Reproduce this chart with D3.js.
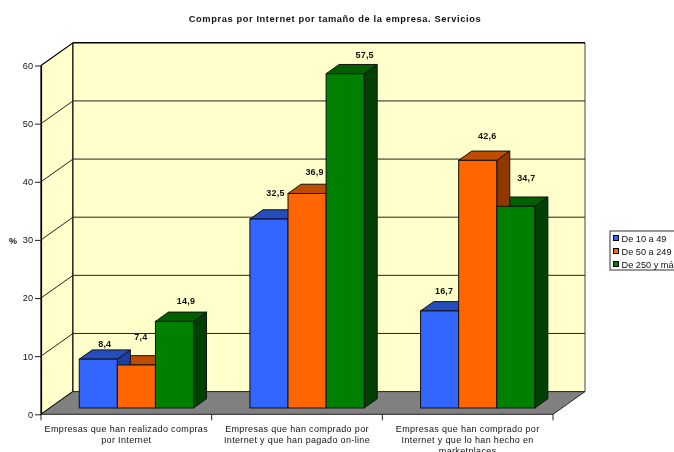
<!DOCTYPE html>
<html><head><meta charset="utf-8">
<script src="https://cdn.jsdelivr.net/npm/d3@7/dist/d3.min.js"></script>
<style>html,body{margin:0;padding:0;background:#fff;overflow:hidden}svg{display:block;filter:blur(0.35px)}text{font-family:"Liberation Sans",Arial,sans-serif;fill:#111}</style>
</head><body><svg id="c" width="674" height="452"></svg>
<script>
const title = "Compras por Internet por tamaño de la empresa. Servicios";
const categories = ["Empresas que han realizado compras por Internet","Empresas que han comprado por Internet y que han pagado on-line","Empresas que han comprado por Internet y que lo han hecho en marketplaces"];
const categoryLines = [["Empresas que han realizado compras","por Internet"],["Empresas que han comprado por","Internet y que han pagado on-line"],["Empresas que han comprado por","Internet y que lo han hecho en","marketplaces"]];
const seriesNames = ["De 10 a 49","De 50 a 249","De 250 y más"];
const small = [8.4,32.5,16.7];
const medium = [7.4,36.9,42.6];
const large = [14.9,57.5,34.7];
const yTicks = [0,10,20,30,40,50,60];
const colors = ["#3366FF","#FF6600","#008000"];
const topColors = ["#264DBF","#BF4D00","#006000"];
const sideColors = ["#1F3F9F","#8F3900","#004000"];
// hand placed label nudges in the original chart, [dx, dy] per series per category
const labelNudge = [[[0,1],[-2,-12],[5,-4]],[[0,-10],[1,-5],[13,-2]],[[-2,-4],[3,-8],[4,-12]]];

const values = [small,medium,large];
const svg = d3.select("#c");
const fmt = v => String(v).replace(".",",");
const L=41,R=553,T=65.5,B=414.3, DX=32,DY=-22.7;
const y = d3.scaleLinear().domain([0,60]).range([B,T]);
const x0 = d3.scaleBand().domain(d3.range(3)).range([L,R]);
const x1 = d3.scaleBand().domain(d3.range(3)).range([0,114.3]);
const zFront=0.27, zBack=0.67;
const poly = (pts,fill,stroke,sw)=>svg.append("polygon").attr("points",pts.map(p=>p.join(",")).join(" ")).attr("fill",fill).attr("stroke",stroke||"none").attr("stroke-width",sw||1);

// walls
poly([[L,T],[L+DX,T+DY],[L+DX,B+DY],[L,B]],"#FFFFCC","#000",1.2);
poly([[L+DX,T+DY],[R+DX,T+DY],[R+DX,B+DY],[L+DX,B+DY]],"#FFFFCC","none");
svg.append("line").attr("x1",R+DX).attr("x2",R+DX).attr("y1",T+DY).attr("y2",B+DY).attr("stroke","#808080").attr("stroke-width",1.5);
svg.append("line").attr("x1",L+DX).attr("x2",R+DX).attr("y1",T+DY).attr("y2",T+DY).attr("stroke","#000").attr("stroke-width",1.4);
svg.append("line").attr("x1",L+DX).attr("x2",L+DX).attr("y1",T+DY).attr("y2",B+DY).attr("stroke","#000");
yTicks.slice(1,-1).forEach(t=>{
  svg.append("polyline").attr("points",`${L},${y(t)} ${L+DX},${y(t)+DY} ${R+DX},${y(t)+DY}`).attr("fill","none").attr("stroke","#222").attr("stroke-width",1);
});
// floor
poly([[L,B],[L+DX,B+DY],[R+DX,B+DY],[R,B]],"#808080","#222",1);

// axes
const ay = svg.append("g").attr("transform",`translate(${L},0)`).call(d3.axisLeft(y).tickValues(yTicks).tickSize(6).tickSizeOuter(0).tickPadding(2));
ay.select(".domain").attr("stroke","#000").attr("stroke-width",1.2);
ay.selectAll(".tick line").attr("stroke","#222");
ay.selectAll("text").attr("font-size",9.2).style("font-family",'"Liberation Sans",Arial,sans-serif');
svg.append("g").selectAll("line").data(d3.range(4)).join("line")
  .attr("x1",i=>L+i*x0.bandwidth()).attr("x2",i=>L+i*x0.bandwidth()).attr("y1",B).attr("y2",B+6).attr("stroke","#222");

// bars
const base = y(0)-6.3;
const offX = x0.bandwidth()/2-85.3+38.2; // group start inside the category band
const bars=[];
categories.forEach((c,ci)=>values.forEach((s,si)=>{
  const bx = x0(ci)+offX+x1(si), w=x1.bandwidth(), h=y(0)-y(s[ci]);
  bars.push({ci,si,bx,w,h,top:base-h,v:s[ci]});
}));
const ddx=DX*(zBack-zFront)+0.2, ddy=DY*(zBack-zFront)-0.2;
const ln="#111";
bars.slice().sort((a,b)=>b.si-a.si).forEach(b=>{
  poly([[b.bx+b.w,b.top],[b.bx+b.w+ddx,b.top+ddy],[b.bx+b.w+ddx,base+ddy],[b.bx+b.w,base]],sideColors[b.si],ln,1);
  poly([[b.bx,b.top],[b.bx+ddx,b.top+ddy],[b.bx+b.w+ddx,b.top+ddy],[b.bx+b.w,b.top]],topColors[b.si],ln,1);
});
bars.forEach(b=>{
  svg.append("rect").attr("x",b.bx).attr("y",b.top).attr("width",b.w).attr("height",b.h).attr("fill",colors[b.si]).attr("stroke",ln).attr("stroke-width",1);
});
bars.forEach(b=>{
  const n=labelNudge[b.ci][b.si];
  svg.append("text").attr("x",b.bx+b.w/2+ddx/2+n[0]).attr("y",b.top+ddy+n[1]-4).attr("text-anchor","middle").attr("font-size",9).attr("letter-spacing",0.2).attr("font-weight","bold").text(fmt(b.v));
});

// category labels
categoryLines.forEach((ls,i)=>ls.forEach((t,j)=>{
  svg.append("text").attr("x",x0(i)+x0.bandwidth()/2).attr("y",432+j*11).attr("text-anchor","middle").attr("font-size",9).attr("letter-spacing",0.35).text(t);
}));

svg.append("text").attr("x",335).attr("y",21.5).attr("text-anchor","middle").attr("font-size",9.3).attr("letter-spacing",0.6).attr("font-weight","bold").text(title);
svg.append("text").attr("x",13).attr("y",244).attr("text-anchor","middle").attr("font-size",9).attr("font-weight","bold").text("%");

// legend
svg.append("rect").attr("x",610).attr("y",231).attr("width",80).attr("height",39).attr("fill","#fff").attr("stroke","#555").attr("stroke-width",1.2);
seriesNames.forEach((n,i)=>{
  svg.append("rect").attr("x",613.5).attr("y",235.5+i*13).attr("width",5).attr("height",5).attr("fill",colors[i]).attr("stroke","#000");
  svg.append("text").attr("x",621.5).attr("y",242+i*13).attr("font-size",9.2).text(n);
});
</script></body></html>
